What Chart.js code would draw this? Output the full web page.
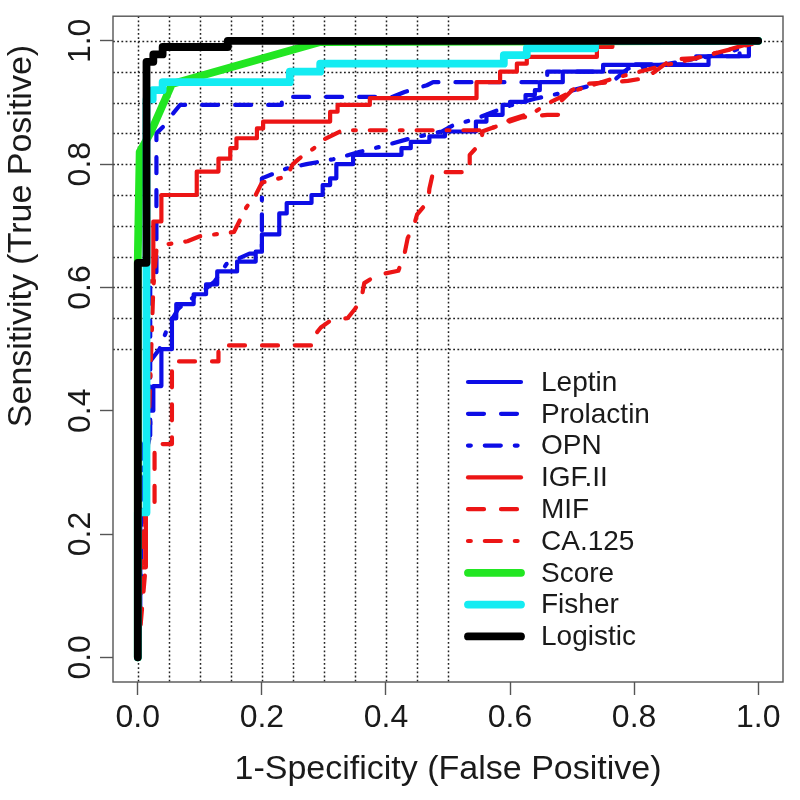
<!DOCTYPE html>
<html><head><meta charset="utf-8">
<script src="https://cdn.jsdelivr.net/npm/chart.js@4/dist/chart.umd.min.js"></script>
<style>html,body{margin:0;padding:0;background:#fff;}canvas{display:block;}</style>
</head><body>
<canvas id="c" width="800" height="800"></canvas>
<script>
// ---------- data ----------
const seriesNames = ['Leptin','Prolactin','OPN','IGF.II','MIF','CA.125','Score','Fisher','Logistic'];

const leptin = [[0,0],[0.004,0.06],[0.004,0.22],[0.012,0.22],[0.012,0.40],[0.025,0.40],[0.025,0.44],[0.038,0.44],[0.038,0.5],[0.055,0.5],[0.055,0.55],[0.062,0.55],[0.062,0.573],[0.09,0.573],[0.09,0.589],[0.11,0.589],[0.11,0.605],[0.128,0.605],[0.128,0.626],[0.16,0.626],[0.16,0.642],[0.19,0.642],[0.19,0.658],[0.2,0.658],[0.2,0.686],[0.228,0.686],[0.228,0.72],[0.24,0.72],[0.24,0.737],[0.28,0.737],[0.28,0.75],[0.298,0.75],[0.298,0.766],[0.31,0.766],[0.31,0.777],[0.32,0.777],[0.32,0.8],[0.347,0.8],[0.347,0.815],[0.425,0.815],[0.425,0.826],[0.44,0.826],[0.44,0.836],[0.47,0.836],[0.47,0.845],[0.495,0.845],[0.495,0.853],[0.545,0.853],[0.545,0.869],[0.562,0.869],[0.562,0.88],[0.588,0.88],[0.588,0.896],[0.6,0.896],[0.6,0.901],[0.625,0.901],[0.625,0.912],[0.64,0.912],[0.64,0.92],[0.648,0.92],[0.648,0.933],[0.685,0.933],[0.685,0.95],[0.75,0.95],[0.75,0.961],[0.92,0.961],[0.92,0.975],[0.985,0.975],[0.985,1],[1,1]];
const prolactin = [[0,0],[0.005,0.1],[0.005,0.36],[0.02,0.36],[0.02,0.6],[0.03,0.62],[0.03,0.85],[0.045,0.865],[0.055,0.88],[0.068,0.896],[0.232,0.896],[0.232,0.909],[0.41,0.909],[0.43,0.917],[0.466,0.928],[0.476,0.933],[0.66,0.933],[0.66,0.95],[0.8,0.95],[0.8,0.962],[0.9,0.962],[0.9,0.975],[0.97,0.975],[0.97,1],[1,1]];
const opn = [[0,0],[0.005,0.12],[0.005,0.3],[0.02,0.36],[0.02,0.48],[0.035,0.5],[0.05,0.54],[0.065,0.565],[0.08,0.578],[0.1,0.59],[0.124,0.61],[0.143,0.638],[0.18,0.655],[0.2,0.655],[0.2,0.777],[0.24,0.793],[0.272,0.8],[0.315,0.808],[0.358,0.82],[0.39,0.828],[0.44,0.842],[0.49,0.853],[0.51,0.864],[0.54,0.872],[0.6,0.895],[0.64,0.906],[0.69,0.917],[0.77,0.938],[0.79,0.955],[0.85,0.962],[0.95,0.98],[1,1]];
const igf2 = [[0,0],[0,0.146],[0.013,0.146],[0.013,0.61],[0.025,0.61],[0.025,0.707],[0.038,0.707],[0.038,0.75],[0.095,0.75],[0.095,0.788],[0.13,0.788],[0.13,0.809],[0.149,0.809],[0.149,0.826],[0.159,0.826],[0.159,0.842],[0.192,0.842],[0.192,0.858],[0.202,0.858],[0.202,0.869],[0.31,0.869],[0.31,0.885],[0.322,0.885],[0.322,0.896],[0.374,0.896],[0.374,0.907],[0.546,0.907],[0.546,0.933],[0.584,0.933],[0.584,0.95],[0.611,0.95],[0.611,0.963],[0.627,0.963],[0.627,0.974],[0.74,0.974],[0.74,0.99],[0.765,0.99],[0.765,1],[1,1]];
const mif = [[0,0],[0.012,0.14],[0.012,0.24],[0.027,0.24],[0.027,0.346],[0.055,0.346],[0.055,0.48],[0.13,0.48],[0.13,0.506],[0.283,0.506],[0.283,0.52],[0.295,0.535],[0.313,0.548],[0.338,0.55],[0.35,0.565],[0.36,0.58],[0.365,0.607],[0.385,0.62],[0.42,0.627],[0.43,0.655],[0.435,0.68],[0.445,0.7],[0.45,0.718],[0.468,0.74],[0.47,0.76],[0.476,0.787],[0.535,0.787],[0.535,0.815],[0.555,0.837],[0.555,0.853],[0.59,0.866],[0.62,0.876],[0.66,0.88],[0.68,0.88],[0.68,0.9],[0.7,0.92],[0.72,0.93],[0.79,0.935],[0.82,0.94],[0.86,0.97],[0.9,0.972],[0.99,0.995],[1,1]];
const ca125 = [[0,0],[0.004,0.1],[0.01,0.2],[0.015,0.3],[0.02,0.45],[0.025,0.6],[0.03,0.66],[0.047,0.67],[0.08,0.675],[0.1,0.683],[0.155,0.69],[0.165,0.71],[0.175,0.73],[0.19,0.75],[0.2,0.77],[0.24,0.78],[0.25,0.8],[0.26,0.809],[0.283,0.825],[0.3,0.84],[0.33,0.855],[0.555,0.855],[0.575,0.86],[0.6,0.872],[0.64,0.885],[0.664,0.9],[0.7,0.918],[0.77,0.94],[0.84,0.958],[0.9,0.972],[0.95,0.985],[1,1]];
const score = [[0,0],[0,0.65],[0.003,0.82],[0.02,0.85],[0.055,0.93],[0.294,0.998],[1,1]];
const fisher = [[0,0],[0,0.235],[0.014,0.235],[0.014,0.905],[0.024,0.905],[0.024,0.92],[0.04,0.92],[0.04,0.933],[0.245,0.933],[0.245,0.95],[0.294,0.95],[0.294,0.963],[0.59,0.963],[0.59,0.977],[0.627,0.977],[0.627,0.988],[0.737,0.988],[0.737,1],[1,1]];
const logistic = [[0,0],[0,0.64],[0.014,0.64],[0.014,0.966],[0.025,0.966],[0.025,0.978],[0.04,0.978],[0.04,0.99],[0.145,0.99],[0.145,1],[1,1]];

const xTicks = [0, 0.2, 0.4, 0.6, 0.8, 1.0];
const yTicks = [0, 0.2, 0.4, 0.6, 0.8, 1.0];
const gridX = [0, 0.05, 0.1, 0.15, 0.2, 0.25, 0.3, 0.35, 0.4, 0.45, 0.5];
const gridY = [0.5, 0.55, 0.6, 0.65, 0.7, 0.75, 0.8, 0.85, 0.9, 0.95, 1.0];
const xTitle = '1-Specificity (False Positive)';
const yTitle = 'Sensitivity (True Positive)';

// ---------- styles ----------
const BLUE = '#0d0de6', RED = '#ec1515', GREEN = '#22e622', CYAN = '#14ecf2', BLACK = '#000000';
const THIN = 4.2, THICK = 7.8;
const DASH = [16, 17], DASHDOT = [2.8, 14, 16, 14];
const curves = [leptin, prolactin, opn, igf2, mif, ca125, score, fisher, logistic];
const styles = [
  {c: BLUE, w: THIN, d: []}, {c: BLUE, w: THIN, d: DASH}, {c: BLUE, w: THIN, d: DASHDOT},
  {c: RED, w: THIN, d: []}, {c: RED, w: THIN, d: DASH}, {c: RED, w: THIN, d: DASHDOT},
  {c: GREEN, w: THICK, d: []}, {c: CYAN, w: THICK, d: []}, {c: BLACK, w: THICK, d: []}
];
const FONT = '"Liberation Sans", Arial, Helvetica, sans-serif';

const framePlugin = {
  id: 'frame',
  beforeDatasetsDraw(chart) {
    const {ctx, chartArea: a, scales: {x, y}} = chart;
    ctx.save();
    ctx.strokeStyle = '#222';
    ctx.lineWidth = 1.5;
    ctx.setLineDash([1.8, 2.4]);
    gridX.forEach(v => { const px = Math.round(x.getPixelForValue(v)) + 0.5; ctx.beginPath(); ctx.moveTo(px, a.top); ctx.lineTo(px, a.bottom); ctx.stroke(); });
    gridY.forEach(v => { const py = Math.round(y.getPixelForValue(v)) + 0.5; ctx.beginPath(); ctx.moveTo(a.left, py); ctx.lineTo(a.right, py); ctx.stroke(); });
    ctx.restore();
  },
  afterDatasetsDraw(chart) {
    const {ctx, chartArea: a} = chart;
    ctx.save();
    ctx.strokeStyle = '#555';
    ctx.lineWidth = 1.4;
    ctx.strokeRect(a.left, a.top, a.right - a.left, a.bottom - a.top);
    // y-axis title
    ctx.save();
    ctx.translate(22, 236);
    ctx.rotate(-Math.PI / 2);
    ctx.font = '34px ' + FONT;
    ctx.fillStyle = '#1a1a1a';
    ctx.textAlign = 'center';
    ctx.textBaseline = 'middle';
    ctx.fillText(yTitle, 0, 0);
    ctx.restore();
    // legend
    const lx0 = 468, lx1 = 521, tx = 541, ly0 = 382, step = 31.8;
    ctx.font = '28px ' + FONT;
    ctx.textBaseline = 'middle';
    ctx.textAlign = 'left';
    chart.data.datasets.forEach((ds, i) => {
      const yy = ly0 + i * step;
      ctx.beginPath();
      ctx.lineCap = 'round';
      ctx.lineWidth = ds.borderWidth;
      ctx.strokeStyle = ds.borderColor;
      ctx.setLineDash(ds.borderDash);
      ctx.moveTo(lx0, yy); ctx.lineTo(lx1, yy); ctx.stroke();
      ctx.setLineDash([]);
      ctx.fillStyle = '#1a1a1a';
      ctx.fillText(ds.label, tx, yy + 1);
    });
    ctx.restore();
  }
};

new Chart(document.getElementById('c'), {
  type: 'scatter',
  data: {
    datasets: curves.map((pts, i) => ({
      label: seriesNames[i],
      data: pts.map(p => ({x: p[0], y: p[1]})),
      showLine: true,
      borderColor: styles[i].c,
      backgroundColor: styles[i].c,
      borderWidth: styles[i].w,
      borderDash: styles[i].d,
      borderCapStyle: 'round',
      borderJoinStyle: 'round',
      pointRadius: 0, pointHoverRadius: 0,
      fill: false, tension: 0,
      order: curves.length - i
    }))
  },
  options: {
    responsive: false, animation: false, devicePixelRatio: 1,
    layout: {padding: {top: 14, right: 17, left: 0, bottom: 0}},
    plugins: {legend: {display: false}, tooltip: {enabled: false}},
    scales: {
      x: {
        type: 'linear', min: -0.04, max: 1.04,
        afterBuildTicks: s => { s.ticks = xTicks.map(v => ({value: v})); },
        afterFit: s => { s.height = 118; },
        grid: {drawOnChartArea: false, drawTicks: true, tickLength: 13, tickColor: '#555', tickWidth: 1.4},
        border: {display: false},
        ticks: {font: {family: FONT, size: 32}, color: '#1a1a1a', padding: 4, maxRotation: 0, autoSkip: false, callback: v => Number(v).toFixed(1)},
        title: {display: true, text: xTitle, font: {family: FONT, size: 34}, color: '#1a1a1a', padding: {top: 0, bottom: 10}}
      },
      y: {
        type: 'linear', min: -0.04, max: 1.04,
        afterBuildTicks: s => { s.ticks = yTicks.map(v => ({value: v})); },
        afterFit: s => { s.width = 113; },
        grid: {drawOnChartArea: false, drawTicks: true, tickLength: 13, tickColor: '#555', tickWidth: 1.4},
        border: {display: false},
        ticks: {font: {family: FONT, size: 32}, color: '#1a1a1a', padding: -3, minRotation: 90, maxRotation: 90, crossAlign: 'center', autoSkip: false, callback: v => Number(v).toFixed(1)},
        title: {display: false}
      }
    }
  },
  plugins: [framePlugin]
});
</script>
</body></html>
